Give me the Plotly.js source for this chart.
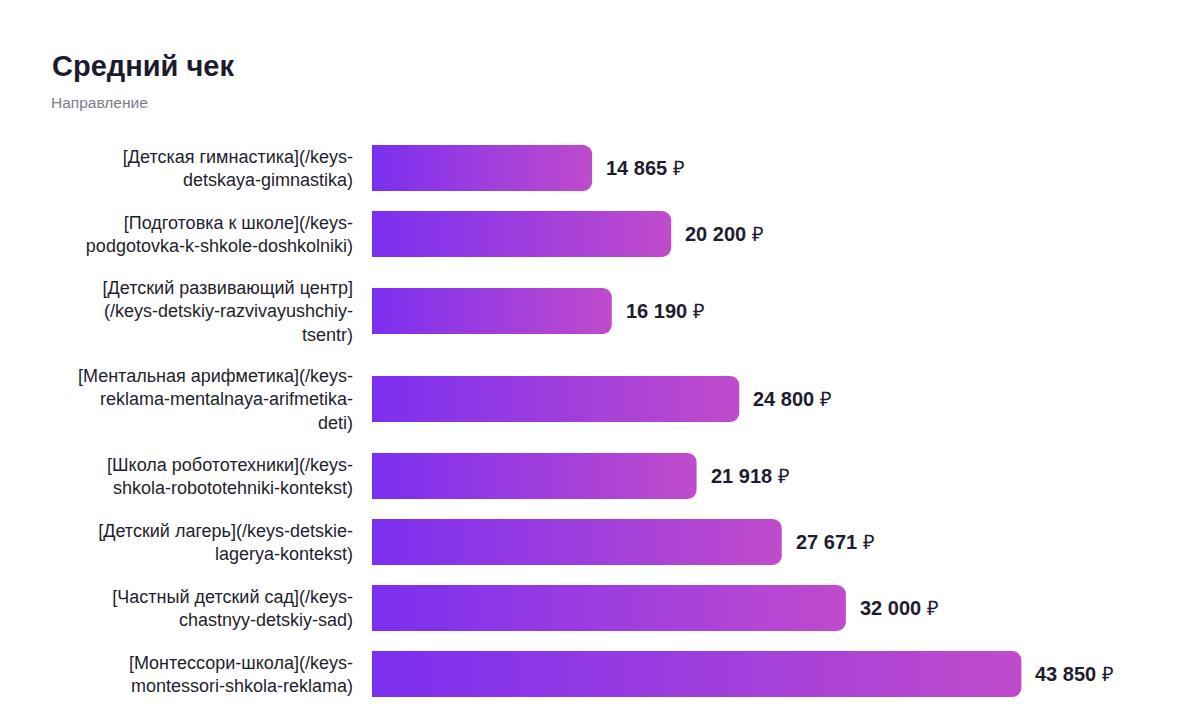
<!DOCTYPE html>
<html>
<head>
<meta charset="utf-8">
<script src="https://cdn.plot.ly/plotly-3.0.1.min.js"></script>
<style>
html,body{margin:0;padding:0;background:#fff;}
#chart{width:1200px;height:712px;}
</style>
</head>
<body>
<div id="chart"></div>
<script>
const chartTitle = "Средний чек";
const chartSubtitle = "Направление";
const categories = [
  "[Детская гимнастика](/keys-<br>detskaya-gimnastika)",
  "[Подготовка к школе](/keys-<br>podgotovka-k-shkole-doshkolniki)",
  "[Детский развивающий центр]<br>(/keys-detskiy-razvivayushchiy-<br>tsentr)",
  "[Ментальная арифметика](/keys-<br>reklama-mentalnaya-arifmetika-<br>deti)",
  "[Школа робототехники](/keys-<br>shkola-robototehniki-kontekst)",
  "[Детский лагерь](/keys-detskie-<br>lagerya-kontekst)",
  "[Частный детский сад](/keys-<br>chastnyy-detskiy-sad)",
  "[Монтессори-школа](/keys-<br>montessori-shkola-reklama)"
];
const values = [14865, 20200, 16190, 24800, 21918, 27671, 32000, 43850];
const currency = "₽";

// layout constants (pixels)
const LINE_H = 22, ROW_GAP = 22, BAR_H = 46, TOP = 135, LEFT = 372, RIGHT = 52;
const FONT = "'Liberation Sans', Arial, Helvetica, sans-serif";

// y positions derived from label line counts (1 y unit = 1 px)
const yPos = [];
let acc = 0;
categories.forEach(c => {
  const lines = c.split("<br>").length;
  const h = Math.max(lines * LINE_H, 44) + ROW_GAP;
  yPos.push(acc + h / 2);
  acc += h;
});
const totalH = acc;

function fmt(v){ return String(v).replace(/\B(?=(\d{3})+(?!\d))/g, " "); }

const trace = {
  type: "bar",
  orientation: "h",
  x: values,
  y: yPos,
  width: BAR_H,
  marker: { color: "#9b3fe0", cornerradius: 9, line: {width: 0} },
  hoverinfo: "skip"
};

const annotations = values.map((v, i) => ({
  x: v, y: yPos[i], xref: "x", yref: "y",
  text: "<b>" + fmt(v) + "</b> " + currency,
  showarrow: false, xanchor: "left", yanchor: "middle", xshift: 12,
  font: { family: FONT, size: 20, color: "#1e1c2e" }
}));

const plotW = 1200 - LEFT - RIGHT;
annotations.push({
  xref: "paper", yref: "paper",
  x: (52 - LEFT) / plotW, xanchor: "left", xshift: -3,
  y: 1 + (TOP - 102) / totalH, yanchor: "middle",
  text: chartSubtitle, showarrow: false,
  font: { family: FONT, size: 15.5, color: "#7c7b8c" }
});

const layout = {
  width: 1200, height: 712,
  margin: { l: LEFT, r: RIGHT, t: TOP, b: 712 - TOP - totalH, pad: 0 },
  paper_bgcolor: "#ffffff", plot_bgcolor: "#ffffff",
  title: {
    text: "<b>" + chartTitle + "</b>",
    xref: "container", yref: "container",
    x: 52 / 1200, xanchor: "left",
    y: 1 - 66 / 712, yanchor: "middle",
    font: { family: FONT, size: 29, color: "#1c1b2e" }
  },
  xaxis: {
    range: [0, 52400], showgrid: false, zeroline: false, showticklabels: false,
    showline: false, fixedrange: true
  },
  yaxis: {
    range: [totalH, 0], tickmode: "array", tickvals: yPos, ticktext: categories,
    showgrid: false, zeroline: false, showline: false, ticks: "",
    ticklabelstandoff: 18,
    tickfont: { family: FONT, size: 18, color: "#1f1e2e" },
    fixedrange: true
  },
  annotations: annotations,
  showlegend: false
};

Plotly.newPlot("chart", [trace], layout, { displayModeBar: false, staticPlot: true }).then(gd => {
  const svg = gd.querySelector("svg.main-svg");
  const ns = "http://www.w3.org/2000/svg";
  let defs = svg.querySelector("defs");
  if (!defs) { defs = document.createElementNS(ns, "defs"); svg.insertBefore(defs, svg.firstChild); }
  const grad = document.createElementNS(ns, "linearGradient");
  grad.setAttribute("id", "barGrad");
  grad.setAttribute("x1", "0"); grad.setAttribute("y1", "0");
  grad.setAttribute("x2", "1"); grad.setAttribute("y2", "0");
  [["0%", "#7b2ff0"], ["100%", "#c04bcc"]].forEach(([o, c]) => {
    const s = document.createElementNS(ns, "stop");
    s.setAttribute("offset", o); s.setAttribute("stop-color", c);
    grad.appendChild(s);
  });
  defs.appendChild(grad);
  gd.querySelectorAll(".barlayer .point path").forEach(p => {
    p.style.fill = "url(#barGrad)";
  });
});
</script>
</body>
</html>
